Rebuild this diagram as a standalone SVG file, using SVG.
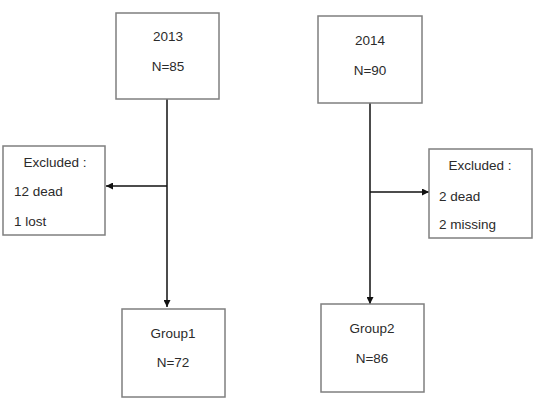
<svg xmlns="http://www.w3.org/2000/svg" width="540" height="406" viewBox="0 0 540 406">
<style>
.box{fill:#fff;stroke:#7f7f7f;stroke-width:1.5}
.t{font-family:"Liberation Sans",Arial,sans-serif;font-size:13.5px;fill:#2b2b2b}
.c{text-anchor:middle}
.ln{stroke:#111;stroke-width:1.5;fill:none}
</style>
<defs>
<marker id="ah" viewBox="0 0 10 10" refX="10" refY="5" markerWidth="7" markerHeight="7" markerUnits="userSpaceOnUse" orient="auto">
<path d="M0,0 L10,5 L0,10 z" fill="#111"/>
</marker>
</defs>
<rect width="540" height="406" fill="#fff"/>
<g id="connectors">
<line class="ln" x1="167" y1="99" x2="167" y2="307" marker-end="url(#ah)"/>
<line class="ln" x1="167" y1="186" x2="106" y2="186" marker-end="url(#ah)"/>
<line class="ln" x1="370" y1="103" x2="370" y2="304" marker-end="url(#ah)"/>
<line class="ln" x1="370" y1="192" x2="429" y2="192" marker-end="url(#ah)"/>
</g>
<g id="n2013">
<rect class="box" x="116" y="13" width="103" height="86"/>
<text class="t c" x="168" y="41">2013</text>
<text class="t c" x="168" y="71">N=85</text>
</g>
<g id="n2014">
<rect class="box" x="318" y="16" width="104" height="87"/>
<text class="t c" x="370" y="45">2014</text>
<text class="t c" x="370" y="75">N=90</text>
</g>
<g id="excl1">
<rect class="box" x="3" y="146" width="102" height="89"/>
<text class="t c" x="55" y="167">Excluded :</text>
<text class="t" x="14" y="196">12 dead</text>
<text class="t" x="14" y="226">1 lost</text>
</g>
<g id="excl2">
<rect class="box" x="429" y="149" width="103" height="89"/>
<text class="t c" x="480" y="170">Excluded :</text>
<text class="t" x="439" y="201">2 dead</text>
<text class="t" x="439" y="229">2 missing</text>
</g>
<g id="group1">
<rect class="box" x="122" y="309" width="103" height="88"/>
<text class="t c" x="173" y="338">Group1</text>
<text class="t c" x="173" y="367">N=72</text>
</g>
<g id="group2">
<rect class="box" x="321" y="304" width="103" height="88"/>
<text class="t c" x="372" y="333">Group2</text>
<text class="t c" x="372" y="363">N=86</text>
</g>
</svg>
